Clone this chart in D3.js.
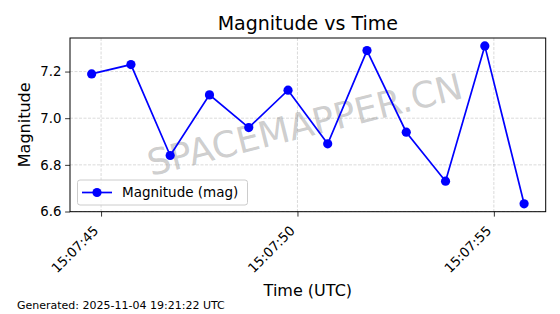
<!DOCTYPE html>
<html><head><meta charset="utf-8">
<script src="https://cdn.jsdelivr.net/npm/d3@7"></script>
<style>
body{margin:0;background:#fff;}
svg{display:block;font-family:"DejaVu Sans",sans-serif;}
</style></head>
<body><svg id="c" width="560" height="314"></svg>
<script>
const times = ["15:07:44.76","15:07:45.76","15:07:46.76","15:07:47.76","15:07:48.76","15:07:49.76","15:07:50.77","15:07:51.77","15:07:52.77","15:07:53.77","15:07:54.77","15:07:55.77"];
const magnitudes = [7.19, 7.23, 6.84, 7.10, 6.96, 7.12, 6.89, 7.29, 6.94, 6.73, 7.31, 6.633];
const xTickLabels = ["15:07:45","15:07:50","15:07:55"];
const yTicks = [6.6, 6.8, 7.0, 7.2];
const dateStr = "2025-11-04";

const parse = s => new Date(dateStr + "T" + s + "Z");
const data = times.map((t,i)=>({t:parse(t), v:magnitudes[i]}));

const svg = d3.select("#c");
const L=70, R=545.7, T=38, B=211.7;

const tExt = d3.extent(data, d=>+d.t), tPad=(tExt[1]-tExt[0])*0.05;
const x = d3.scaleUtc().domain([tExt[0]-tPad, tExt[1]+tPad]).range([L,R]);
const vExt = d3.extent(magnitudes), vPad=(vExt[1]-vExt[0])*0.05;
const y = d3.scaleLinear().domain([vExt[0]-vPad, vExt[1]+vPad]).range([B,T]);

const xTicks = xTickLabels.map(parse);

// grid
const grid = svg.append("g").attr("stroke","#b0b0b0").attr("stroke-opacity",0.6).attr("stroke-width",0.8).attr("stroke-dasharray","3,1.5");
grid.selectAll("line.gx").data(xTicks).join("line").attr("x1",d=>x(d)).attr("x2",d=>x(d)).attr("y1",T).attr("y2",B);
grid.selectAll("line.gy").data(yTicks).join("line").attr("x1",L).attr("x2",R).attr("y1",d=>y(d)).attr("y2",d=>y(d));

// watermark
svg.append("text").attr("transform",`translate(${(L+R)/2},${(T+B)/2+12}) rotate(-14)`)
  .attr("text-anchor","middle").attr("font-size",36).attr("fill","#808080").attr("fill-opacity",0.4)
  .text("SPACEMAPPER.CN");

// line
svg.append("path").datum(data).attr("fill","none").attr("stroke","#0000ff").attr("stroke-width",1.7)
  .attr("d", d3.line().x(d=>x(d.t)).y(d=>y(d.v)));
svg.selectAll("circle.pt").data(data).join("circle").attr("cx",d=>x(d.t)).attr("cy",d=>y(d.v)).attr("r",4.6).attr("fill","#0000ff");

// axes
const xAxis = d3.axisBottom(x).tickValues(xTicks).tickSize(4.9).tickFormat(d3.utcFormat("%H:%M:%S"));
const gx = svg.append("g").attr("transform",`translate(0,${B})`).call(xAxis);
gx.select(".domain").remove();
gx.selectAll(".tick line").attr("stroke","#000").attr("stroke-width",0.8);
gx.selectAll(".tick text").attr("font-size",13.3).attr("fill","#000").attr("font-family","DejaVu Sans")
  .attr("text-anchor","end").attr("y",0).attr("dy","0.35em")
  .attr("transform","translate(-5.5,16.5) rotate(-45)");

const yAxis = d3.axisLeft(y).tickValues(yTicks).tickSize(4.9).tickFormat(d3.format(".1f"));
const gy = svg.append("g").attr("transform",`translate(${L},0)`).call(yAxis);
gy.select(".domain").remove();
gy.selectAll(".tick line").attr("stroke","#000").attr("stroke-width",0.8);
gy.selectAll(".tick text").attr("font-size",13.3).attr("fill","#000").attr("font-family","DejaVu Sans").attr("x",-8.5);

svg.append("rect").attr("x",L).attr("y",T).attr("width",R-L).attr("height",B-T).attr("fill","none").attr("stroke","#000").attr("stroke-width",1);

// legend
const lg = svg.append("g");
lg.append("rect").attr("x",77.5).attr("y",180).attr("width",170).attr("height",25).attr("rx",2.5)
  .attr("fill","#fff").attr("fill-opacity",0.8).attr("stroke","#cccccc").attr("stroke-width",1);
lg.append("line").attr("x1",82).attr("x2",112).attr("y1",192.5).attr("y2",192.5).attr("stroke","#0000ff").attr("stroke-width",1.7);
lg.append("circle").attr("cx",97).attr("cy",192.5).attr("r",4.6).attr("fill","#0000ff");
lg.append("text").attr("x",122).attr("y",197.3).attr("font-size",13.5).attr("fill","#000").text("Magnitude (mag)");

// titles
svg.append("text").attr("x",(L+R)/2).attr("y",30).attr("text-anchor","middle").attr("font-size",19).attr("fill","#000").text("Magnitude vs Time");
svg.append("text").attr("x",(L+R)/2).attr("y",296).attr("text-anchor","middle").attr("font-size",16).attr("fill","#000").text("Time (UTC)");
svg.append("text").attr("transform",`translate(30,${(T+B)/2}) rotate(-90)`).attr("text-anchor","middle").attr("font-size",16).attr("fill","#000").text("Magnitude");
svg.append("text").attr("x",17).attr("y",308.5).attr("font-size",11).attr("fill","#000").text("Generated: 2025-11-04 19:21:22 UTC");
</script></body></html>
